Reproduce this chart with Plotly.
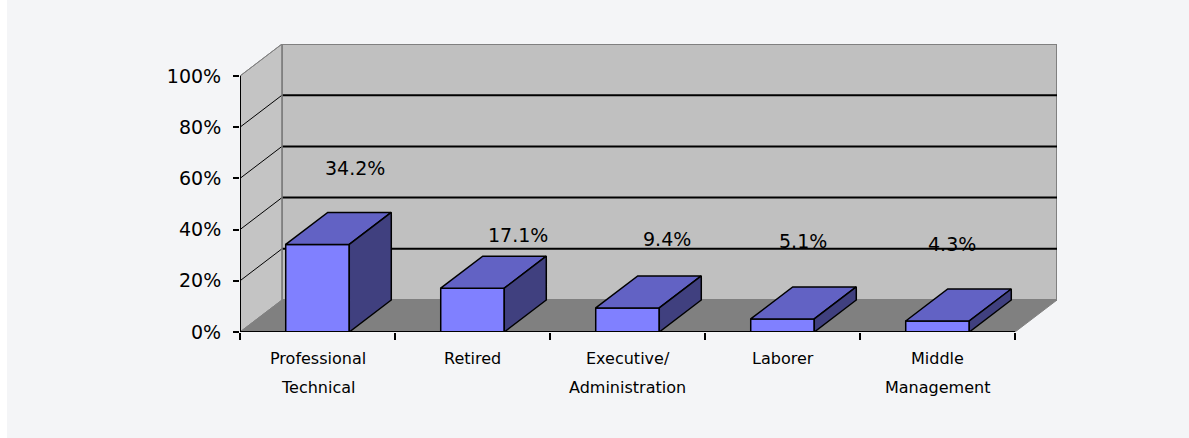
import plotly.graph_objects as go

# ---------------- data ----------------
categories = [["Professional", "Technical"], ["Retired"], ["Executive/", "Administration"],
              ["Laborer"], ["Middle", "Management"]]
values = [34.2, 17.1, 9.4, 5.1, 4.3]
value_labels = ["34.2%", "17.1%", "9.4%", "5.1%", "4.3%"]
y_ticks = [0, 20, 40, 60, 80, 100]
y_ticktext = ["0%", "20%", "40%", "60%", "80%", "100%"]

# ---------------- style / geometry ----------------
N = len(values)
DX = 0.271          # depth offset in category units
DY = 12.5           # depth offset in % units
BAR_W = 0.41
# where Excel put the value labels (offset from category centre, and height in % units)
label_dx = [0.245, 0.294, 0.255, 0.135, 0.094]
label_y = [64.1, 37.9, 36.3, 35.5, 34.4]

FRONT = "#8080ff"
TOP = "#6262c4"
SIDE = "#40407f"
WALL = "#c0c0c0"
FLOOR = "#808080"
FONT = "DejaVu Sans"

W, H = 1189, 438
ML, MR, MT, MB = 240, 132, 44, 106

fig = go.Figure()


def poly(xs, ys, fill, line_color, line_width=1.0):
    fig.add_trace(go.Scatter(
        x=list(xs) + [xs[0]], y=list(ys) + [ys[0]], mode="lines", fill="toself",
        fillcolor=fill, line=dict(color=line_color, width=line_width),
        hoverinfo="skip", showlegend=False))


def seg(xs, ys, color, width, dash="solid"):
    fig.add_trace(go.Scatter(
        x=xs, y=ys, mode="lines", line=dict(color=color, width=width, dash=dash),
        hoverinfo="skip", showlegend=False))


# walls and floor
poly([DX, N + DX, N + DX, DX], [DY, DY, 100 + DY, 100 + DY], WALL, FLOOR, 2)
poly([0, 0, DX, DX], [0, 100, 100 + DY, DY], "#c4c4c4", FLOOR, 1)
poly([0, N, N + DX, DX], [0, 0, DY, DY], FLOOR, FLOOR, 1)

# gridlines
for g in y_ticks[1:-1]:
    seg([DX, N + DX], [g + DY, g + DY], "black", 2)
    seg([0, DX], [g, g + DY], "black", 1)
seg([0, DX], [100, 100 + DY], FLOOR, 1)
seg([DX, DX], [DY, 100 + DY], FLOOR, 1.5)

# bars
for i, v in enumerate(values):
    x0 = i + 0.5 - BAR_W / 2
    x1 = i + 0.5 + BAR_W / 2
    poly([x0, x1, x1, x0], [0, 0, v, v], FRONT, "black", 1.5)
    poly([x0, x1, x1 + DX, x0 + DX], [v, v, v + DY, v + DY], TOP, "black", 1.5)
    poly([x1, x1 + DX, x1 + DX, x1], [0, DY, v + DY, v], SIDE, "black", 1.5)

# axis lines
seg([0, 0], [0, 100], "black", 2)
seg([0, N], [0, 0], "black", 2)

annotations = []
for i, t in enumerate(value_labels):
    annotations.append(dict(
        x=i + 0.5 + label_dx[i], y=label_y[i], xref="x", yref="y", text=t,
        showarrow=False, font=dict(family=FONT, size=19, color="black"),
        xanchor="center", yanchor="middle"))
for i, lines in enumerate(categories):
    for k, t in enumerate(lines):
        annotations.append(dict(
            x=i + 0.5, y=0, xref="x", yref="y", text=t, showarrow=False,
            font=dict(family=FONT, size=16, color="black"),
            xanchor="center", yanchor="middle", yshift=-26 - 29 * k))

pw = W - ML - MR
ph = H - MT - MB
fig.update_layout(
    width=W, height=H,
    margin=dict(l=ML, r=MR, t=MT, b=MB, pad=0),
    paper_bgcolor="white", plot_bgcolor="rgba(0,0,0,0)",
    showlegend=False,
    xaxis=dict(range=[0, N + DX], showgrid=False, zeroline=False, showline=False,
               tickvals=list(range(N + 1)), ticktext=[""] * (N + 1),
               ticks="outside", ticklen=7, tickwidth=2, tickcolor="black",
               fixedrange=True),
    yaxis=dict(range=[0, 100 + DY], showgrid=False, zeroline=False, showline=False,
               tickvals=y_ticks, ticktext=y_ticktext,
               ticks="outside", ticklen=6, tickwidth=2, tickcolor="black",
               ticklabelstandoff=8,
               tickfont=dict(family=FONT, size=19, color="black"),
               fixedrange=True),
    annotations=annotations,
    shapes=[dict(type="rect", xref="paper", yref="paper", layer="below",
                 x0=(7 - ML) / pw, x1=(W - ML) / pw,
                 y0=(H - MT - H) / ph * -1 if False else -(MB) / ph,
                 y1=(H - MT - 9) / ph,
                 fillcolor="#f4f5f7", line=dict(width=0))],
)

fig.write_html("out.html")
